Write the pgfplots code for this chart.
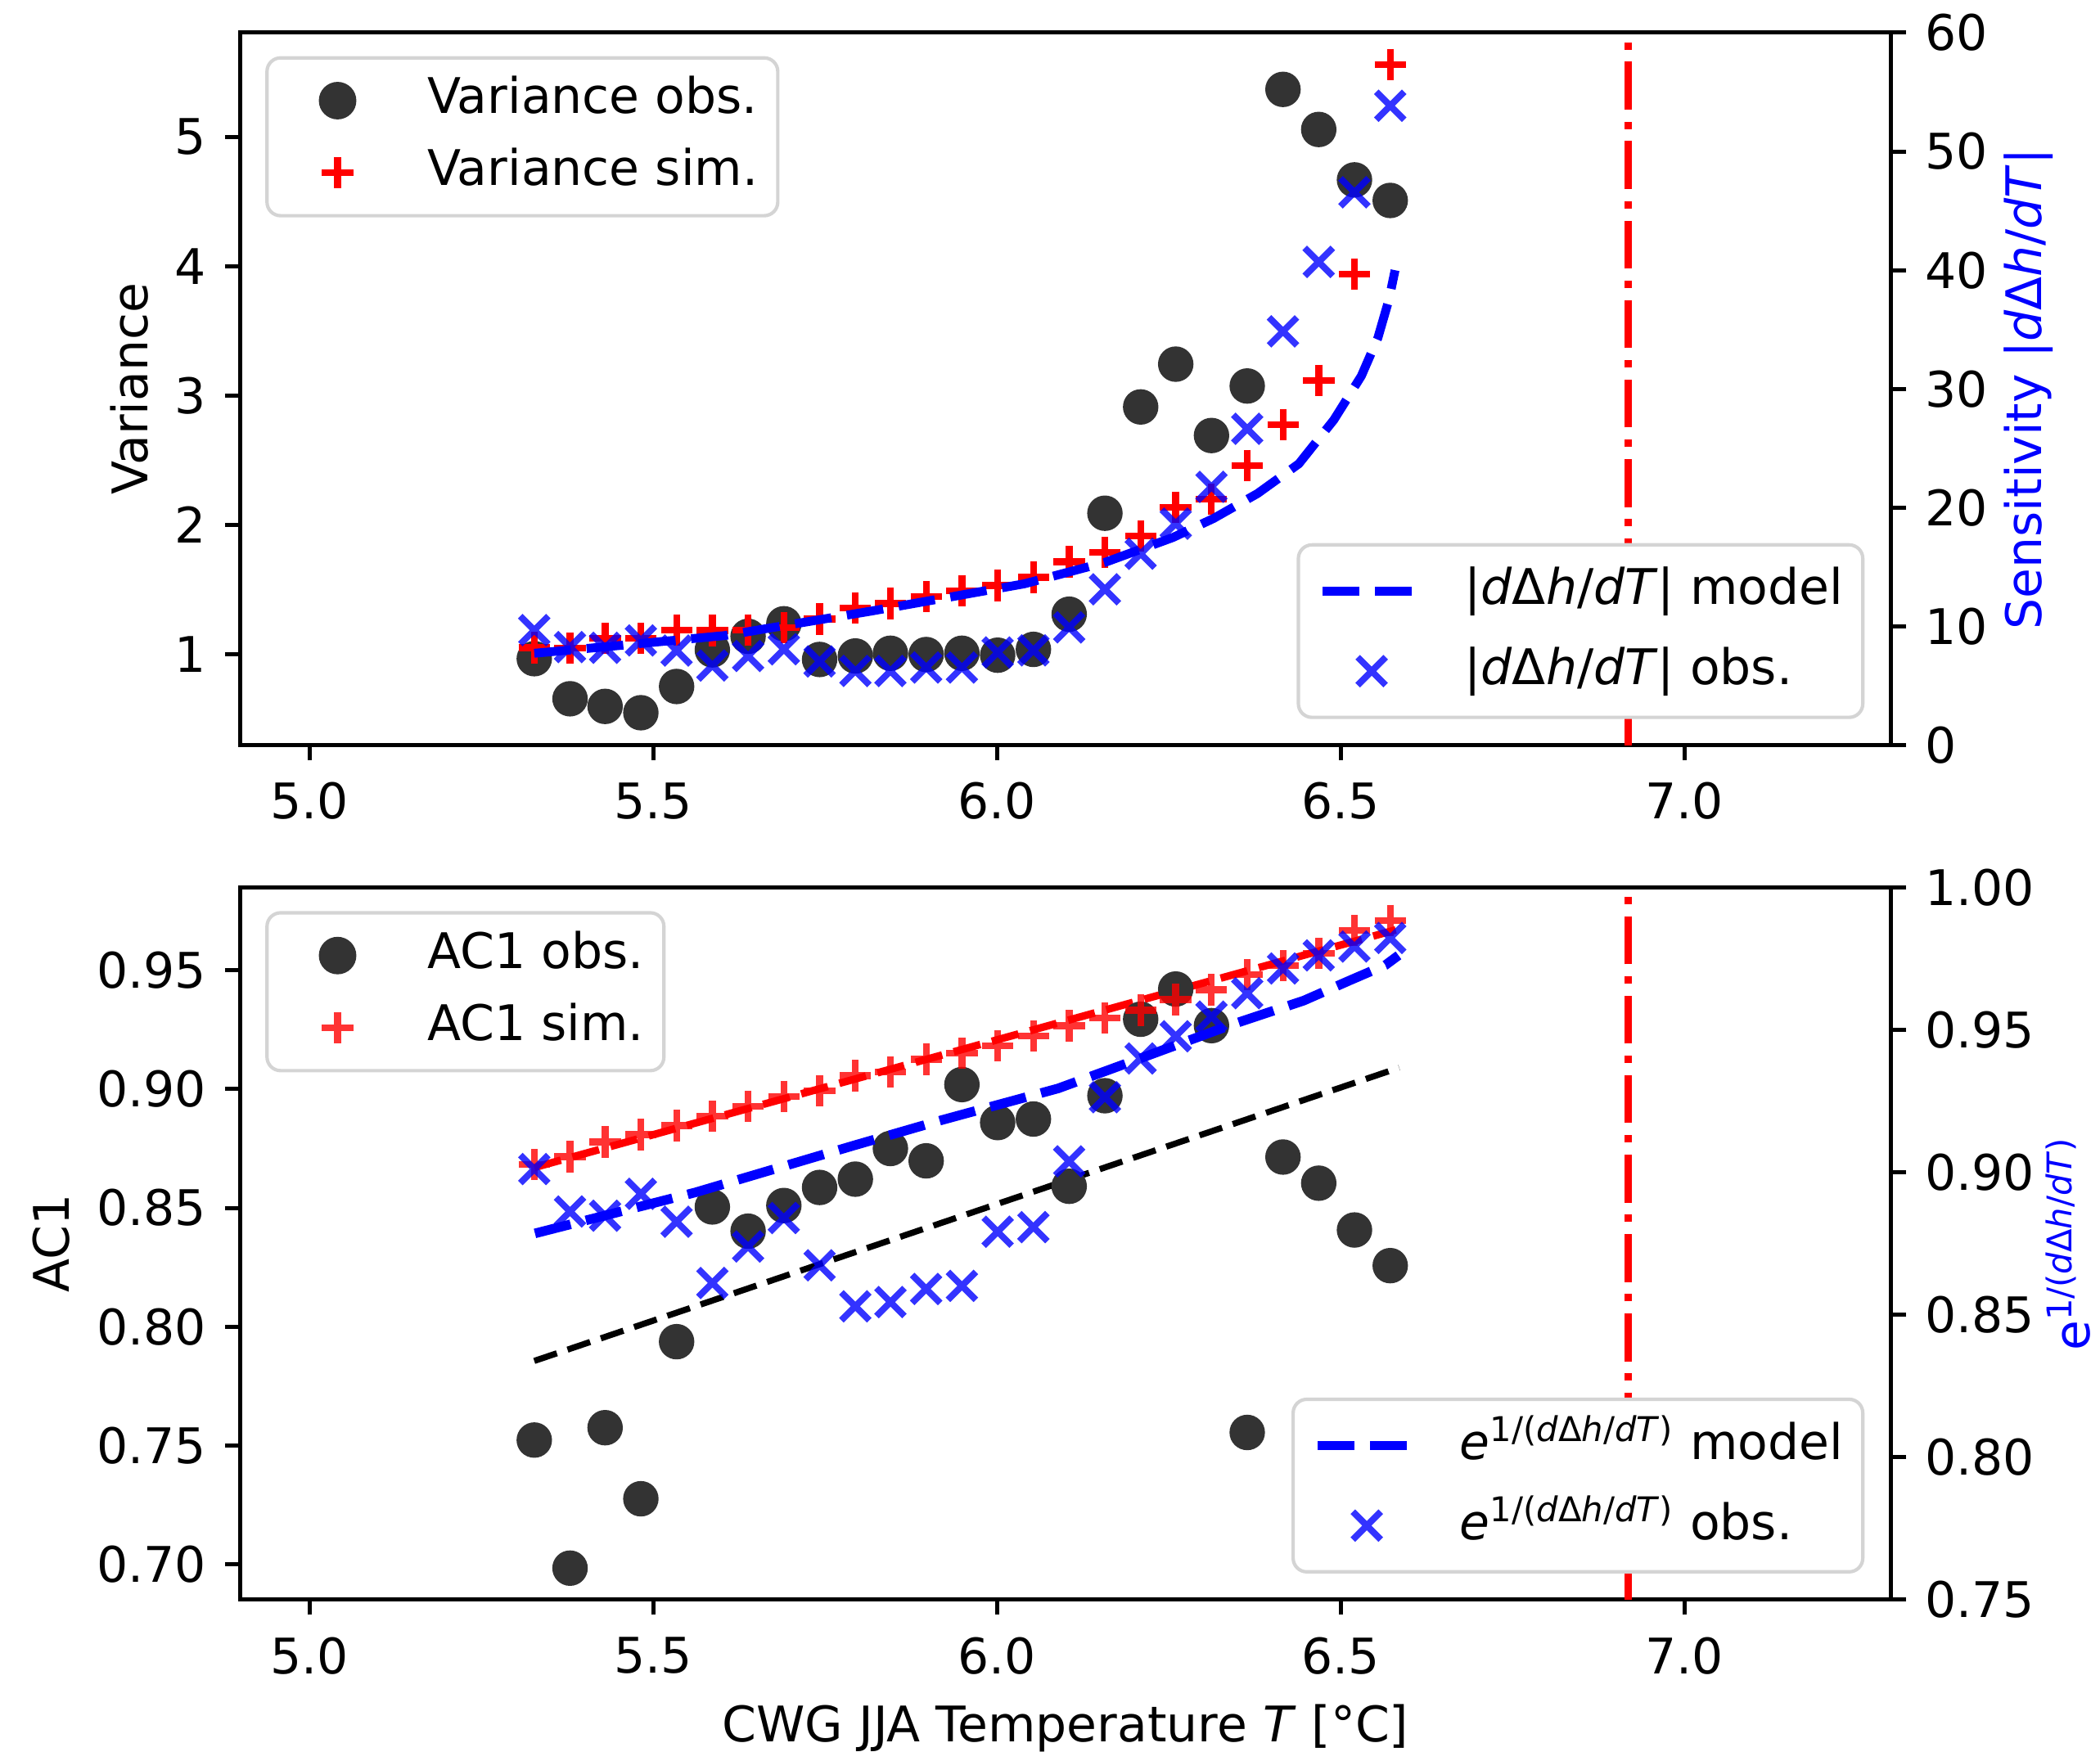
\documentclass[border=0pt]{standalone}
\usepackage{pgfplots}
\usepackage{pgfplotstable}
\pgfplotsset{compat=1.18}
\usepackage{fontspec}
\setmainfont{DejaVu Sans}
\definecolor{dotgray}{RGB}{51,51,51}

\pgfplotstableread{
x      varobs varsim sensobs ac1obs ac1sim eobs
5.327  0.964  1.048  9.70   0.7523 0.8682 0.9012
5.379  0.654  1.044  8.27   0.6984 0.8715 0.8863
5.430  0.595  1.122  8.21   0.7575 0.8777 0.8848
5.482  0.546  1.122  8.83   0.7276 0.8809 0.8925
5.534  0.749  1.185  7.98   0.7937 0.8846 0.8827
5.586  1.032  1.181  6.72   0.8504 0.8885 0.8612
5.638  1.137  1.185  7.52   0.8402 0.8928 0.8740
5.690  1.234  1.203  8.09   0.8510 0.8969 0.8840
5.742  0.958  1.270  7.06   0.8586 0.8992 0.8674
5.794  0.985  1.354  6.26   0.8621 0.9057 0.8530
5.845  1.006  1.390  6.26   0.8750 0.9073 0.8545
5.897  0.996  1.443  6.55   0.8698 0.9125 0.8591
5.949  1.006  1.491  6.55   0.9019 0.9151 0.8602
6.001  0.991  1.529  7.82   0.8859 0.9181 0.8792
6.053  1.036  1.594  8.00   0.8874 0.9224 0.8808
6.105  1.308  1.713  9.93   0.8591 0.9267 0.9039
6.157  2.089  1.787  13.14  0.8972 0.9300 0.9264
6.209  2.911  1.913  16.13  0.9294 0.9332 0.9400
6.260  3.242  2.135  18.66  0.9421 0.9377 0.9478
6.312  2.690  2.198  21.76  0.9267 0.9418 0.9547
6.364  3.073  2.458  26.65  0.7555 0.9482 0.9629
6.416  5.367  2.772  34.85  0.8714 0.9519 0.9716
6.468  5.057  3.116  40.70  0.8604 0.9571 0.9762
6.520  4.667  3.939  46.56  0.8407 0.9667 0.9793
6.572  4.508  5.559  53.84  0.8257 0.9710 0.9823
}\data

\pgfplotstableread{
x     sens
5.327 7.75
5.45  8.4
5.604 9.24
5.817 11.3
6.04  13.6
6.157 15.4
6.256 17.5
6.315 19.1
6.379 21.2
6.439 23.7
6.49  27.4
6.53  31.1
6.554 34.3
6.57  37.5
6.579 40.0
}\modeltop

\pgfplotstableread{
x      e
5.328  0.8786
5.5615 0.8930
5.791  0.9094
5.92   0.9184
6.089  0.9295
6.217  0.9408
6.344  0.9521
6.446  0.9603
6.514  0.9675
6.565  0.9728
6.584  0.9762
}\modelbot

\begin{document}
\begin{tikzpicture}[font=\fontsize{14.4}{17}\selectfont]
\useasboundingbox (0,0) rectangle (615.84pt,-513.84pt);
\pgfplotsset{
  base/.style={
    scale only axis, width=484.18pt,
    xmin=4.899, xmax=7.3005,
    axis line style={line width=1.2pt},
    tick style={line width=1.2pt, black},
    major tick length=4.4pt,
    tick align=outside,
    /pgf/number format/assume math mode=true,
    tick label style={font=\fontsize{14.4}{17}\selectfont},
    label style={font=\fontsize{14.4}{17}\selectfont},
    xticklabel shift=3pt,
    yticklabel shift=2pt,
    legend cell align=left,
    legend image code/.code={\path (0pt,0pt) (28.8pt,0pt);\draw[mark repeat=2,mark phase=2,##1] plot coordinates {(0pt,0pt) (14.4pt,0pt) (28.8pt,0pt)};},
    legend style={font=\fontsize{14.4}{17}\selectfont, draw=black!17, line width=1pt, rounded corners=4pt, fill=white, inner xsep=5.8pt, inner ysep=5.4pt, column sep=11.5pt, row sep=6.9pt, nodes={inner sep=0pt, text height=10.9pt, text depth=3.4pt}},
  },
  leftax/.style={base, xtick pos=left, ytick pos=left, xtick={5,5.5,6,6.5,7},
    xticklabel style={/pgf/number format/.cd, fixed, fixed zerofill, precision=1},
    ylabel shift=1pt, xlabel shift=2pt,
    legend style={at={(0.0153,0.967)}, anchor=north west}},
  rightax/.style={base, axis x line=none, axis y line*=right, ytick pos=right, ylabel style={blue},
    legend style={at={(0.9839,0.0368)}, anchor=south east, inner ysep=5.55pt, row sep=7.5pt, nodes={text height=12pt, text depth=4pt}}},
  dots/.style={only marks, mark=*, mark size=5pt, color=dotgray, mark options={draw=dotgray, fill=dotgray}},
}
% ---------------- top panel ----------------
\begin{axis}[leftax, at={(70.39pt,-218.59pt)}, anchor=south west, height=209.02pt,
  ymin=0.294, ymax=5.806, ytick={1,2,3,4,5}, ylabel={Variance}]
\addplot[dots] table[x=x,y=varobs]{\data};
\addlegendentry{Variance obs.}
\addplot[only marks, mark=+, mark size=4.6pt, color=red, mark options={line width=2pt}] table[x=x,y=varsim]{\data};
\addlegendentry{Variance sim.}
\addplot[forget plot, red, line width=2.2pt, dash pattern=on 14.1pt off 3.5pt on 2.2pt off 3.5pt] coordinates {(6.918,0.294) (6.918,5.806)};
\end{axis}
\begin{axis}[rightax, at={(70.39pt,-218.59pt)}, anchor=south west, height=209.02pt,
  ymin=0, ymax=60, ytick={0,10,20,30,40,50,60}, ylabel shift=-2pt,
  ylabel={Sensitivity |\textit{d}Δ\textit{h}/\textit{dT}|}]
\addplot[blue, line width=2.6pt, dash pattern=on 10.8pt off 4.6pt] table[x=x,y=sens]{\modeltop};
\addlegendentry{|\textit{d}Δ\textit{h}/\textit{dT}| model}
\addplot[only marks, mark=x, mark size=5.8pt, color=blue, mark options={line width=1.9pt, draw opacity=0.8}] table[x=x,y=sensobs]{\data};
\addlegendentry{|\textit{d}Δ\textit{h}/\textit{dT}| obs.}
\end{axis}
% ---------------- bottom panel ----------------
\begin{axis}[leftax, at={(70.39pt,-469.18pt)}, anchor=south west, height=208.87pt,
  ymin=0.6851, ymax=0.9848, ytick={0.70,0.75,0.80,0.85,0.90,0.95},
  yticklabel style={/pgf/number format/.cd, fixed, fixed zerofill, precision=2},
  ylabel={AC1}, xlabel={CWG JJA Temperature \textit{T} [°C]}]
\addplot[dots] table[x=x,y=ac1obs]{\data};
\addlegendentry{AC1 obs.}
\addplot[only marks, mark=+, mark size=4.6pt, color=red, mark options={line width=2pt, draw opacity=0.8}] table[x=x,y=ac1sim]{\data};
\addlegendentry{AC1 sim.}
\addplot[forget plot, red, line width=2.2pt, dash pattern=on 8.1pt off 3.5pt] coordinates {(5.327,0.867) (6.58,0.967)};
\addplot[forget plot, black, line width=1.8pt, dash pattern=on 7pt off 3.3pt] coordinates {(5.327,0.7856) (6.585,0.909)};
\addplot[forget plot, red, line width=2.2pt, dash pattern=on 14.1pt off 3.5pt on 2.2pt off 3.5pt] coordinates {(6.918,0.6851) (6.918,0.9848)};
\end{axis}
\begin{axis}[rightax, at={(70.39pt,-469.18pt)}, anchor=south west, height=208.87pt,
  ymin=0.75, ymax=1.0, ytick={0.75,0.80,0.85,0.90,0.95,1.00}, ylabel shift=-3.5pt,
  yticklabel style={/pgf/number format/.cd, fixed, fixed zerofill, precision=2},
  ylabel={e\textsuperscript{1/(\textit{d}Δ\textit{h}/\textit{dT})}}]
\addplot[blue, line width=2.8pt, dash pattern=on 10.8pt off 4.6pt] table[x=x,y=e]{\modelbot};
\addlegendentry{\textit{e}\textsuperscript{1/(\textit{d}Δ\textit{h}/\textit{dT})} model}
\addplot[only marks, mark=x, mark size=5.8pt, color=blue, mark options={line width=1.9pt, draw opacity=0.8}] table[x=x,y=eobs]{\data};
\addlegendentry{\textit{e}\textsuperscript{1/(\textit{d}Δ\textit{h}/\textit{dT})} obs.}
\end{axis}
\end{tikzpicture}
\end{document}
